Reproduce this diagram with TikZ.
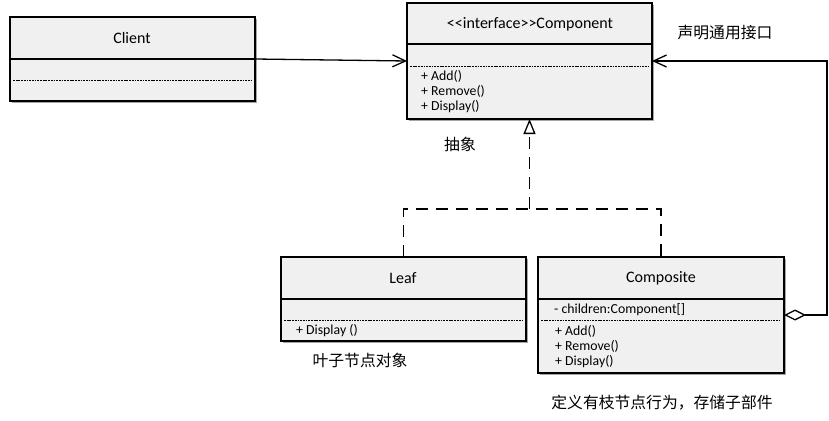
\documentclass[tikz,border=0pt]{standalone}
\usepackage{fontspec}
\setmainfont{Carlito}
\newfontfamily\cjk{Noto Sans CJK SC}
\usetikzlibrary{shadows,arrows.meta,calc}
\definecolor{boxgray}{HTML}{F0F0F0}
\begin{document}
\begin{tikzpicture}[x=1pt,y=-1pt,
  classbox/.style={draw, line width=1.3pt, fill=boxgray, inner sep=0pt, outer sep=0pt,
    drop shadow={shadow xshift=2pt, shadow yshift=-2pt, opacity=0.35, fill=black}},
  divider/.style={line width=1.1pt},
  dotline/.style={line width=0.8pt, dash pattern=on 1.8pt off 0.9pt},
  title/.style={font=\fontsize{16}{19}\selectfont, inner sep=0pt},
  member/.style={font=\fontsize{13.8}{16}\selectfont, inner sep=0pt, anchor=west},
  note/.style={font=\cjk\fontsize{15.8}{19}\selectfont, inner sep=0pt},
  conn/.style={line width=1.3pt},
  openarrow/.style={-{Straight Barb[length=13pt,width=12pt,line width=1.3pt]}},
  inh/.style={line width=1.5pt, dash pattern=on 12pt off 8pt}
]
\useasboundingbox (0,0) rectangle (829,420);

% Client
\node[classbox, minimum width=245pt, minimum height=84pt] (client) at (132.5,59) {};
\draw[divider] (client.west |- 0,59) -- (client.east |- 0,59);
\draw[dotline] ($(client.west |- 0,80)+(3,0)$) -- ($(client.east |- 0,80)+(-3,0)$);
\node[title] (clientname) at (132,38) {Client};

% Component
\node[classbox, minimum width=245pt, minimum height=116pt] (comp) at (529.5,61) {};
\draw[divider] (comp.west |- 0,44) -- (comp.east |- 0,44);
\draw[dotline] ($(comp.west |- 0,66)+(3,0)$) -- ($(comp.east |- 0,66)+(-3,0)$);
\node[title] (compname) at (530,24) {<\kern0pt<interface>\kern0pt>Component};
\node[member] (cadd) at (421,76) {+ Add()};
\node[member] (crem) at (421,91.5) {+ Remove()};
\node[member] (cdis) at (421,107) {+ Display()};

% Leaf
\node[classbox, minimum width=245pt, minimum height=84pt] (leaf) at (403.5,299) {};
\draw[divider] (leaf.west |- 0,299) -- (leaf.east |- 0,299);
\draw[dotline] ($(leaf.west |- 0,320)+(3,0)$) -- ($(leaf.east |- 0,320)+(-3,0)$);
\node[title] (leafname) at (403,278) {Leaf};
\node[member] (ldis) at (296,331) {+ Display ()};

% Composite
\node[classbox, minimum width=246pt, minimum height=116pt] (composite) at (661,315) {};
\draw[divider] (composite.west |- 0,299) -- (composite.east |- 0,299);
\draw[dotline] ($(composite.west |- 0,320)+(3,0)$) -- ($(composite.east |- 0,320)+(-3,0)$);
\node[title] (compositename) at (661,278) {Composite};
\node[member] (kchild) at (554,310) {- children:Component[]};
\node[member] (kadd) at (555,331) {+ Add()};
\node[member] (krem) at (555,346.5) {+ Remove()};
\node[member] (kdis) at (555,362) {+ Display()};

% Connectors
\draw[conn, openarrow] (client.east) -- (comp.west);
\draw[conn, {Diamond[open,length=22pt,width=11pt,line width=1.3pt]}-{Straight Barb[length=13pt,width=12pt,line width=1.3pt]}]
  (composite.east) -- ++(43,0) |- (comp.east);
\coordinate (junction) at (comp.south |- 0,209);
\draw[inh] (leaf.north) |- (composite.north |- junction) -- (composite.north);
\draw[inh, -{Triangle[open,length=15pt,width=12pt,line width=1.3pt]}] (junction) -- (comp.south);

% Notes
\node[note] (n1) at (725,33) {声明通用接口};
\node[note] (n2) at (460,144) {抽象};
\node[note] (n3) at (360,360) {叶子节点对象};
\node[note] (n4) at (662,403) {定义有枝节点行为，存储子部件};
\end{tikzpicture}
\end{document}
